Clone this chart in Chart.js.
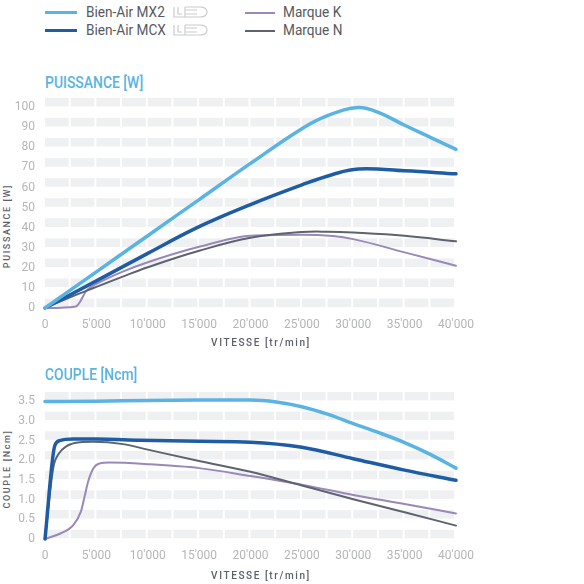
<!DOCTYPE html>
<html>
<head>
<meta charset="utf-8">
<script src="https://cdn.jsdelivr.net/npm/chart.js@4"></script>
<style>
  html, body { margin: 0; padding: 0; background: #fff; }
  body { width: 584px; height: 584px; position: relative; overflow: hidden; font-family: "Roboto", sans-serif; }
  .abs { position: absolute; }
  .leg { position: absolute; font-size: 15.5px; color: #555a60; line-height: 18px; white-space: nowrap; transform: scaleX(0.88); transform-origin: left center; }
  .swatch { position: absolute; height: 0; }
  .title { position: absolute; font-size: 16px; font-weight: 500; color: #5ab4e3; white-space: nowrap; transform: scaleX(0.87); transform-origin: left center; }
  .xt { position: absolute; font-size: 10px; font-weight: 500; letter-spacing: 1.6px; color: #5c6068; white-space: nowrap; transform: translate(-50%, -50%); }
  .yt { position: absolute; font-size: 9px; font-weight: 500; letter-spacing: 1.6px; color: #5c6068; white-space: nowrap; transform: translate(-50%, -50%) rotate(-90deg); }
  canvas { position: absolute; left: 0; }
</style>
</head>
<body>

<!-- légende -->
<div class="swatch" style="left:45px;top:11px;width:32px;border-top:3.5px solid #5ab4e3"></div>
<div class="leg" style="left:86px;top:3px">Bien-Air MX2</div>
<svg class="abs" style="left:173px;top:6px" width="35" height="13" viewBox="0 0 35 13">
  <path d="M1 1 V11 H27 C33 11 34 8 34 6 C34 4 33 1 27 1 H12 M5 1 V8 H9 M13 4 H24 M13 8 H24 M12 1 V11" fill="none" stroke="#c9cbcd" stroke-width="1.2"/>
</svg>
<div class="swatch" style="left:45px;top:29px;width:32px;border-top:3.5px solid #1f5ca6"></div>
<div class="leg" style="left:86px;top:21px">Bien-Air MCX</div>
<svg class="abs" style="left:173px;top:24px" width="35" height="13" viewBox="0 0 35 13">
  <path d="M1 1 V11 H27 C33 11 34 8 34 6 C34 4 33 1 27 1 H12 M5 1 V8 H9 M13 4 H24 M13 8 H24 M12 1 V11" fill="none" stroke="#c9cbcd" stroke-width="1.2"/>
</svg>
<div class="swatch" style="left:245px;top:12px;width:30px;border-top:2px solid #9a88ba"></div>
<div class="leg" style="left:283px;top:3px">Marque K</div>
<div class="swatch" style="left:245px;top:30px;width:30px;border-top:2px solid #5e6370"></div>
<div class="leg" style="left:283px;top:21px">Marque N</div>

<div class="title" style="left:45px;top:73px">PUISSANCE [W]</div>
<div class="yt" style="left:7px;top:226px">PUISSANCE [W]</div>
<canvas id="puissance" width="584" height="250" style="top:90px;width:584px;height:250px"></canvas>
<div class="xt" style="left:261px;top:342px">VITESSE [tr/min]</div>

<div class="title" style="left:45px;top:365px">COUPLE [Ncm]</div>
<div class="yt" style="left:7px;top:469px">COUPLE [Ncm]</div>
<canvas id="couple" width="584" height="187" style="top:384px;width:584px;height:187px"></canvas>
<div class="xt" style="left:261px;top:575px">VITESSE [tr/min]</div>

<script>
// vitesse en tr/min
const rpmTicks = ["0", "5'000", "10'000", "15'000", "20'000", "25'000", "30'000", "35'000", "40'000"];
const puissanceTicks = ["0", "10", "20", "30", "40", "50", "60", "70", "80", "90", "100"];
const coupleTicks = ["0", "0.5", "1.0", "1.5", "2.0", "2.5", "3.0", "3.5"];

// Puissance [W]
const mx2Puissance = [[0,0],[5000,18],[10000,36],[15000,54],[20000,72],[25000,89.3],[27500,95.8],[30500,99.8],[32500,97.3],[35000,91],[37500,85],[40000,79]];
const mcxPuissance = [[0,0],[5000,13.5],[10000,27.2],[15000,40.5],[20000,51.5],[25000,61.3],[28000,66.5],[30500,69.2],[35000,68.3],[40000,66.8]];
const kPuissance = [[0,0],[3000,0.8],[4100,9],[5000,12],[7500,18],[10000,22.8],[15000,30.5],[20000,36],[25000,36.5],[28000,35.8],[30000,34.3],[35000,27.7],[40000,21]];
const nPuissance = [[0,0],[2500,5.5],[5000,10.5],[7500,15.5],[10000,20.3],[15000,28.5],[20000,35],[25000,37.8],[27500,38],[30000,37.6],[35000,36],[40000,33.2]];

// Couple [Ncm]
const mx2Couple = [[0,3.49],[5000,3.5],[10000,3.52],[15000,3.53],[20000,3.53],[22500,3.48],[25000,3.36],[27500,3.17],[30000,2.93],[32500,2.7],[35000,2.45],[37500,2.15],[40000,1.8]];
const mcxCouple = [[0,0],[950,2.37],[1450,2.5],[2750,2.54],[5000,2.54],[9250,2.51],[15000,2.48],[20000,2.46],[25000,2.33],[30000,2.04],[35000,1.75],[40000,1.49]];
const kCouple = [[0,0],[1500,0.14],[2750,0.35],[3500,0.7],[3900,1.13],[4200,1.46],[4700,1.79],[5300,1.92],[6300,1.94],[10000,1.9],[15000,1.8],[20000,1.6],[25000,1.38],[30000,1.12],[35000,0.89],[40000,0.65]];
const nCouple = [[0,0],[800,1.8],[1300,2.15],[2100,2.36],[3400,2.46],[4700,2.47],[7600,2.41],[10000,2.27],[15000,1.98],[20000,1.71],[25000,1.36],[30000,1.01],[35000,0.68],[40000,0.34]];

// bandes grises du fond, posées au-dessus de chaque graduation
const bandesPlugin = {
  id: 'bandes',
  beforeDatasetsDraw(chart, args, opts) {
    const { ctx, scales: { x, y } } = chart;
    ctx.save();
    ctx.fillStyle = '#eff0f1';
    y.ticks.forEach(t => {
      const yb = y.getPixelForValue(t.value) - 0.8;
      const yh = y.getPixelForValue(t.value + opts.step * 0.47);
      for (let v = x.min; v < x.max; v += 2500) {
        const x0 = x.getPixelForValue(v);
        const x1 = x.getPixelForValue(v + 2500) - 2;
        ctx.fillRect(x0, yh, x1 - x0, yb - yh);
      }
    });
    ctx.restore();
  }
};

const pts = arr => arr.map(p => ({ x: p[0], y: p[1] }));

function serie(data, color, width, lisse) {
  return {
    data: pts(data),
    borderColor: color,
    borderWidth: width,
    pointRadius: 0,
    cubicInterpolationMode: lisse ? 'default' : 'monotone',
    tension: 0.4,
    borderCapStyle: 'round',
    borderJoinStyle: 'round',
    clip: 4
  };
}

function graphique(id, series, yMax, yStep, yLabels, padTop) {
  return new Chart(document.getElementById(id).getContext('2d'), {
    type: 'line',
    data: { datasets: series },
    options: {
      responsive: false,
      animation: false,
      layout: { padding: { top: padTop, right: 128, left: 0, bottom: 0 } },
      plugins: {
        legend: { display: false },
        tooltip: { enabled: false },
        bandes: { step: yStep }
      },
      scales: {
        x: {
          type: 'linear',
          min: 0,
          max: 40000,
          ticks: {
            stepSize: 5000,
            padding: 10,
            maxRotation: 0,
            color: '#b4b6b8',
            font: { family: 'Roboto', size: 12 },
            callback: (v, i) => rpmTicks[i]
          },
          grid: { display: false, drawTicks: false },
          border: { display: false },
          afterFit: s => { s.height = 32; }
        },
        y: {
          min: 0,
          max: yMax,
          ticks: {
            stepSize: yStep,
            padding: 10,
            color: '#b4b6b8',
            font: { family: 'Roboto', size: 12 },
            callback: (v, i) => yLabels[i]
          },
          grid: { display: false, drawTicks: false },
          border: { display: false },
          afterFit: s => { s.width = 45; }
        }
      }
    },
    plugins: [bandesPlugin]
  });
}

graphique('puissance', [
  serie(mx2Puissance, '#5ab4e3', 3.5, true),
  serie(mcxPuissance, '#1f5ca6', 3.5, true),
  serie(nPuissance, '#5e6370', 2, true),
  serie(kPuissance, '#9a88ba', 2, false)
], 100, 10, puissanceTicks, 15);

graphique('couple', [
  serie(mcxCouple, '#1f5ca6', 3.5, false),
  serie(mx2Couple, '#5ab4e3', 3.5, false),
  serie(nCouple, '#5e6370', 2, false),
  serie(kCouple, '#9a88ba', 2, false)
], 3.5, 0.5, coupleTicks, 14);
</script>
</body>
</html>
